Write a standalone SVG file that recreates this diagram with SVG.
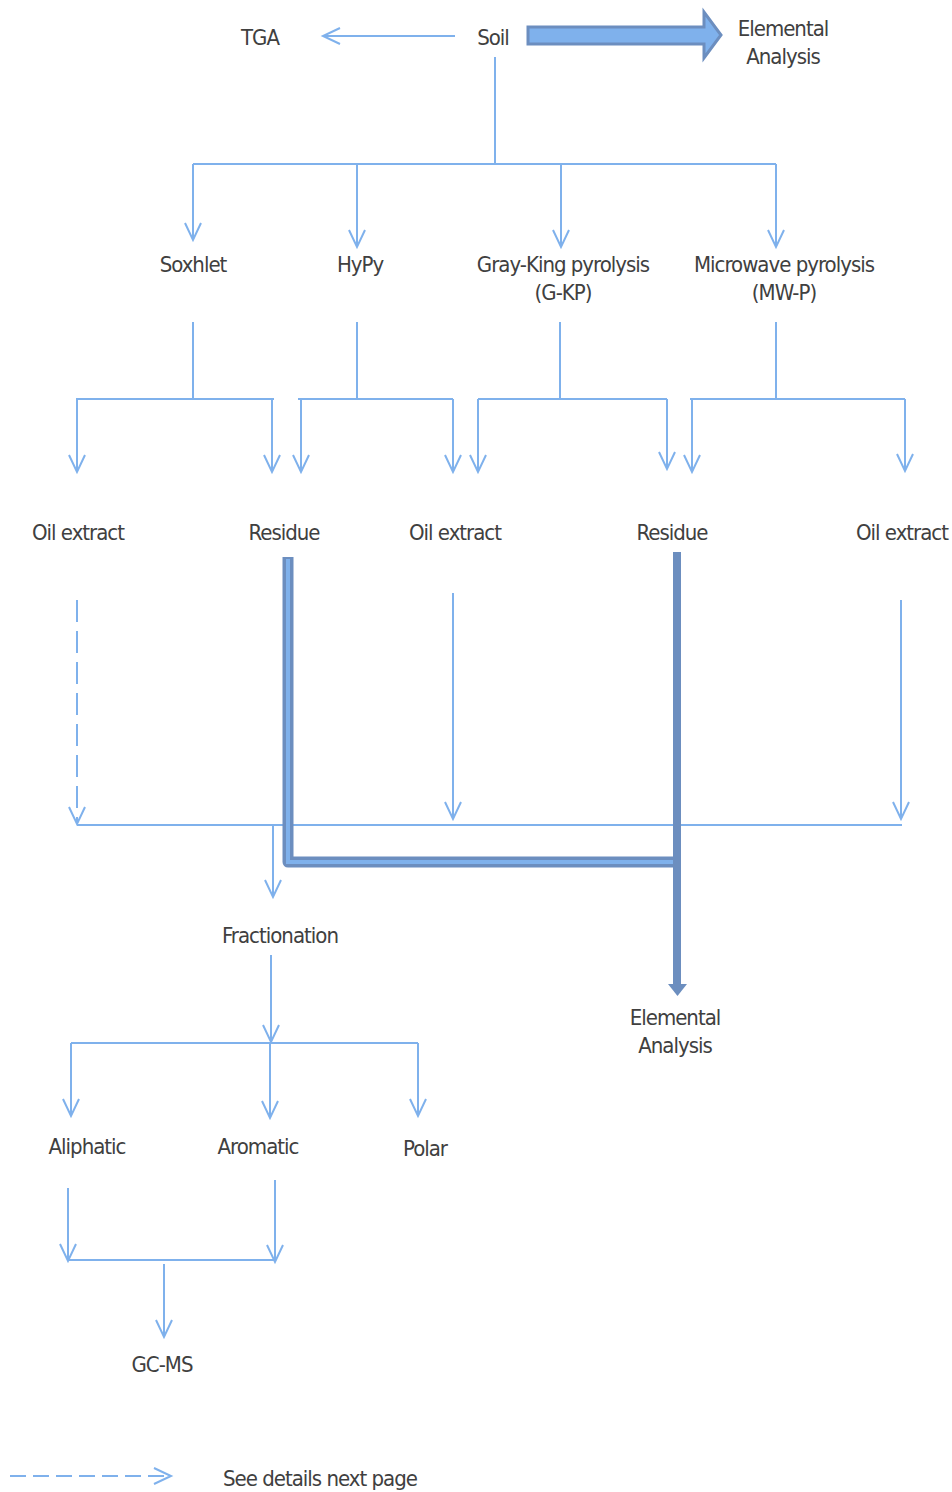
<svg xmlns="http://www.w3.org/2000/svg" width="952" height="1492" viewBox="0 0 952 1492">
<style>
text{font-family:"DejaVu Sans Condensed","Liberation Sans",sans-serif;font-stretch:condensed;font-size:22px;letter-spacing:-1px;fill:#404040;text-anchor:middle}
.ln{fill:none;stroke:#7FB1EC;stroke-width:2}
.ar{marker-end:url(#ah)}
.dash{stroke-dasharray:22 9}
.dash2{stroke-dasharray:16 7}
</style>
<defs>
<marker id="ah" markerUnits="userSpaceOnUse" markerWidth="24" markerHeight="24" refX="17" refY="8" orient="auto" overflow="visible">
<path d="M0,0 L17,8 L0,16" fill="none" stroke="#7FB1EC" stroke-width="2"/>
</marker>
</defs>
<g id="connectors">
<line class="ln ar" x1="455" y1="36" x2="323" y2="36"/>
<path d="M528,27 H704 V12 L721,35 L704,58 V44 H528 Z" fill="#7FB1EC" stroke="#6C8EBF" stroke-width="3"/>
<line class="ln" x1="495" y1="57" x2="495" y2="164"/>
<line class="ln" x1="193" y1="164" x2="776" y2="164"/>
<line class="ln ar" x1="193" y1="164" x2="193" y2="240"/>
<line class="ln ar" x1="357" y1="164" x2="357" y2="247"/>
<line class="ln ar" x1="561" y1="164" x2="561" y2="247"/>
<line class="ln ar" x1="776" y1="164" x2="776" y2="247"/>
<line class="ln" x1="193" y1="322" x2="193" y2="399"/>
<line class="ln" x1="357" y1="322" x2="357" y2="399"/>
<line class="ln" x1="560" y1="322" x2="560" y2="399"/>
<line class="ln" x1="776" y1="322" x2="776" y2="399"/>
<line class="ln" x1="76" y1="399" x2="274" y2="399"/>
<line class="ln" x1="298" y1="399" x2="453" y2="399"/>
<line class="ln" x1="478" y1="399" x2="667" y2="399"/>
<line class="ln" x1="690" y1="399" x2="905" y2="399"/>
<line class="ln ar" x1="77" y1="399" x2="77" y2="472"/>
<line class="ln ar" x1="272" y1="399" x2="272" y2="472"/>
<line class="ln ar" x1="301" y1="399" x2="301" y2="472"/>
<line class="ln ar" x1="453" y1="399" x2="453" y2="472"/>
<line class="ln ar" x1="478" y1="399" x2="478" y2="472"/>
<line class="ln ar" x1="667" y1="399" x2="667" y2="469"/>
<line class="ln ar" x1="692" y1="399" x2="692" y2="472"/>
<line class="ln ar" x1="905" y1="399" x2="905" y2="471"/>
<line class="ln ar dash" x1="77" y1="600" x2="77" y2="824"/>
<line class="ln ar" x1="453" y1="593" x2="453" y2="819"/>
<line class="ln ar" x1="901" y1="600" x2="901" y2="819"/>
<line class="ln" x1="77" y1="825" x2="902" y2="825"/>
<line class="ln ar" x1="273" y1="825" x2="273" y2="897"/>
<path d="M288,557 V862 H675" fill="none" stroke="#6C8EBF" stroke-width="11" stroke-linejoin="round"/>
<path d="M288,559 V862 H675" fill="none" stroke="#7FB1EC" stroke-width="4"/>
<line x1="677" y1="552" x2="677" y2="984" stroke="#6C8EBF" stroke-width="8"/>
<path d="M668,984 L687,984 L677.5,996 Z" fill="#6C8EBF"/>
<line class="ln ar" x1="271" y1="955" x2="271" y2="1042"/>
<line class="ln" x1="71" y1="1043" x2="418" y2="1043"/>
<line class="ln ar" x1="71" y1="1043" x2="71" y2="1116"/>
<line class="ln ar" x1="270" y1="1043" x2="270" y2="1118"/>
<line class="ln ar" x1="418" y1="1043" x2="418" y2="1116"/>
<line class="ln ar" x1="68" y1="1188" x2="68" y2="1261"/>
<line class="ln ar" x1="275" y1="1180" x2="275" y2="1262"/>
<line class="ln" x1="68" y1="1260" x2="275" y2="1260"/>
<line class="ln ar" x1="164" y1="1264" x2="164" y2="1337"/>
<line class="ln ar dash2" x1="10" y1="1476" x2="171" y2="1476"/>
</g>
<g id="n-soil"><text x="493" y="45">Soil</text></g>
<g id="n-tga"><text x="260" y="45">TGA</text></g>
<g id="n-ea1"><text x="783" y="36">Elemental</text><text x="783" y="64">Analysis</text></g>
<g id="n-soxhlet"><text x="193" y="272">Soxhlet</text></g>
<g id="n-hypy"><text x="360" y="272">HyPy</text></g>
<g id="n-gkp"><text x="563" y="272">Gray-King pyrolysis</text><text x="563" y="300">(G-KP)</text></g>
<g id="n-mwp"><text x="784" y="272">Microwave pyrolysis</text><text x="784" y="300">(MW-P)</text></g>
<g id="n-oil1"><text x="78" y="540">Oil extract</text></g>
<g id="n-res1"><text x="284" y="540">Residue</text></g>
<g id="n-oil2"><text x="455" y="540">Oil extract</text></g>
<g id="n-res2"><text x="672" y="540">Residue</text></g>
<g id="n-oil3"><text x="902" y="540">Oil extract</text></g>
<g id="n-frac"><text x="280" y="943">Fractionation</text></g>
<g id="n-ea2"><text x="675" y="1025">Elemental</text><text x="675" y="1053">Analysis</text></g>
<g id="n-ali"><text x="87" y="1154">Aliphatic</text></g>
<g id="n-aro"><text x="258" y="1154">Aromatic</text></g>
<g id="n-pol"><text x="425" y="1156">Polar</text></g>
<g id="n-gcms"><text x="162" y="1372">GC-MS</text></g>
<g id="legend"><text x="223" y="1486" style="text-anchor:start">See details next page</text></g>
</svg>
